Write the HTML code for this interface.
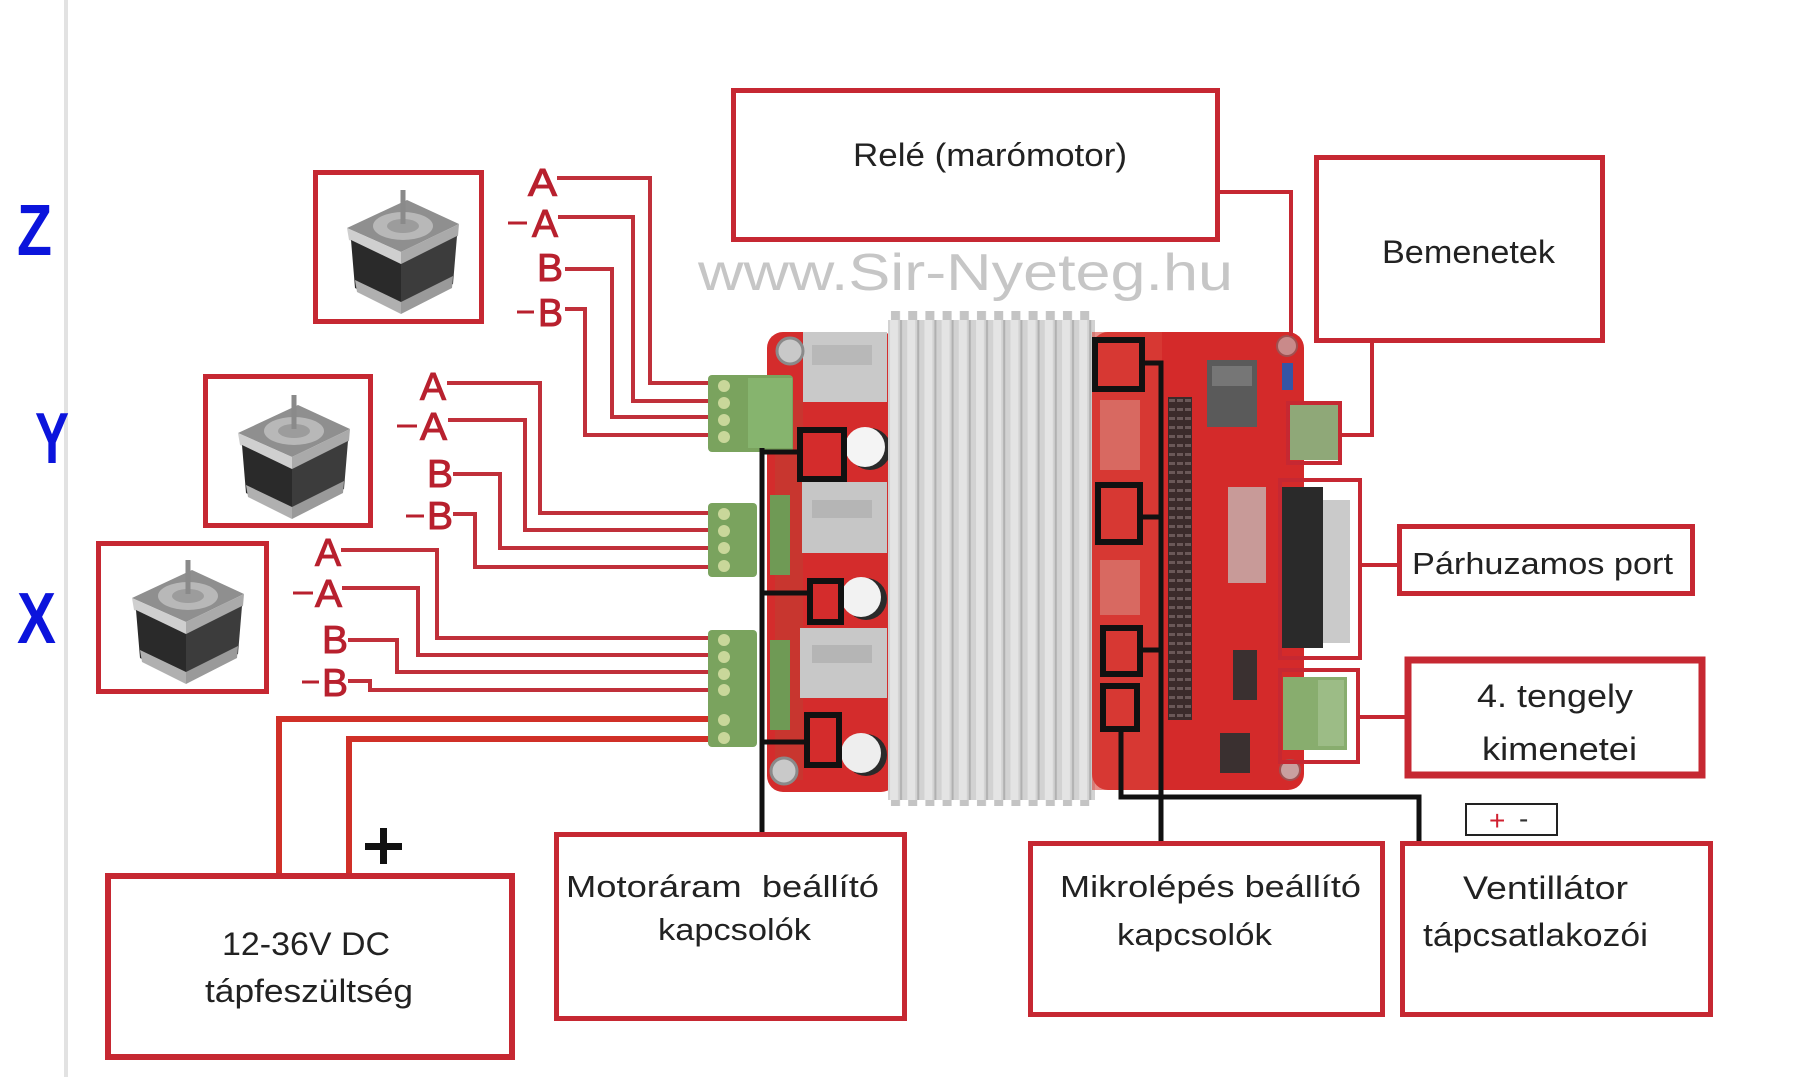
<!DOCTYPE html>
<html><head><meta charset="utf-8">
<style>
html,body{margin:0;padding:0;background:#fff;width:1816px;height:1080px;overflow:hidden}
svg{display:block}
text{font-family:"Liberation Sans",sans-serif}
</style></head>
<body>
<svg width="1816" height="1080" viewBox="0 0 1816 1080" xmlns="http://www.w3.org/2000/svg">
<defs>
  <pattern id="fins" x="888" y="0" width="17.2" height="20" patternUnits="userSpaceOnUse">
    <rect x="0" y="0" width="17.2" height="20" fill="#d2d2d2"/>
    <rect x="2" y="0" width="8" height="20" fill="#e4e4e4"/>
    <rect x="12" y="0" width="2" height="20" fill="#b0b0b0"/>
  </pattern>
  <pattern id="teeth" x="888" y="0" width="17.2" height="20" patternUnits="userSpaceOnUse">
    <rect x="3" y="0" width="9" height="20" fill="#c4c4c4"/>
  </pattern>
  <pattern id="pins" x="0" y="0" width="8" height="9" patternUnits="userSpaceOnUse">
    <rect x="0" y="0" width="8" height="9" fill="#3b2b2b"/>
    <rect x="1" y="3" width="6" height="3" fill="#6a5858"/>
  </pattern>
  <g id="motor">
    <polygon points="2,40 62,12 114,36 56,64" fill="#8f8f8f"/>
    <ellipse cx="58" cy="38" rx="30" ry="14" fill="#b8b8b8"/>
    <ellipse cx="58" cy="38" rx="16" ry="7" fill="#9c9c9c"/>
    <line x1="58" y1="36" x2="58" y2="2" stroke="#8a8a8a" stroke-width="5"/>
    <polygon points="2,40 56,64 56,76 4,52" fill="#cfcfcf"/>
    <polygon points="56,64 114,36 113,48 56,76" fill="#aaaaaa"/>
    <polygon points="6,52 56,76 56,124 10,100" fill="#2a2a2a"/>
    <polygon points="56,76 112,48 108,96 56,124" fill="#3c3c3c"/>
    <polygon points="10,92 56,114 56,126 12,104" fill="#b0b0b0"/>
    <polygon points="56,114 108,88 107,100 56,126" fill="#9a9a9a"/>
  </g>
</defs>

<rect width="1816" height="1080" fill="#fff"/>
<!-- left gray rule -->
<rect x="64" y="0" width="4" height="1077" fill="#e2e2e2"/>

<!-- Blue axis letters -->
<text x="17" y="255" font-size="72" font-weight="bold" fill="#0b14dc" textLength="35" lengthAdjust="spacingAndGlyphs">Z</text>
<text x="35" y="463" font-size="72" font-weight="bold" fill="#0b14dc" textLength="34" lengthAdjust="spacingAndGlyphs">Y</text>
<text x="17" y="643" font-size="72" font-weight="bold" fill="#0b14dc" textLength="39" lengthAdjust="spacingAndGlyphs">X</text>

<!-- watermark -->
<text x="698" y="290" font-size="52" fill="#c6c6c6" textLength="535" lengthAdjust="spacingAndGlyphs">www.Sir-Nyeteg.hu</text>

<!-- Motor boxes -->
<rect x="315.5" y="172.5" width="166" height="149" fill="#fff" stroke="#c62832" stroke-width="5"/>
<rect x="205.5" y="376.5" width="165" height="149" fill="#fff" stroke="#c62832" stroke-width="5"/>
<rect x="98.5" y="543.5" width="168" height="148" fill="#fff" stroke="#c62832" stroke-width="5"/>
<use href="#motor" x="345" y="188"/>
<use href="#motor" x="236" y="393"/>
<use href="#motor" x="130" y="558"/>

<!-- motor wire labels -->
<g fill="#b8202e" stroke="#b8202e" stroke-width="1" font-size="39">
  <text x="528" y="196" textLength="29" lengthAdjust="spacingAndGlyphs">A</text>
  <text x="532" y="237" textLength="26" lengthAdjust="spacingAndGlyphs">A</text>
  <text x="537" y="281" textLength="26" lengthAdjust="spacingAndGlyphs">B</text>
  <text x="538" y="326" textLength="25" lengthAdjust="spacingAndGlyphs">B</text>
  <text x="420" y="400" textLength="26" lengthAdjust="spacingAndGlyphs">A</text>
  <text x="420" y="440" textLength="27" lengthAdjust="spacingAndGlyphs">A</text>
  <text x="427" y="487" textLength="26" lengthAdjust="spacingAndGlyphs">B</text>
  <text x="427" y="529" textLength="26" lengthAdjust="spacingAndGlyphs">B</text>
  <text x="315" y="566" textLength="26" lengthAdjust="spacingAndGlyphs">A</text>
  <text x="315" y="607" textLength="27" lengthAdjust="spacingAndGlyphs">A</text>
  <text x="322" y="653" textLength="26" lengthAdjust="spacingAndGlyphs">B</text>
  <text x="322" y="696" textLength="26" lengthAdjust="spacingAndGlyphs">B</text>
</g>
<g stroke="#b8202e" stroke-width="3">
  <line x1="508" y1="223" x2="527" y2="223"/>
  <line x1="517" y1="312" x2="534" y2="312"/>
  <line x1="397" y1="426" x2="417" y2="426"/>
  <line x1="406" y1="516" x2="424" y2="516"/>
  <line x1="293" y1="593" x2="313" y2="593"/>
  <line x1="302" y1="682" x2="319" y2="682"/>
</g>

<!-- motor wires -->
<g fill="none" stroke="#c0303a" stroke-width="4">
  <polyline points="557,178 650,178 650,383 712,383"/>
  <polyline points="558,217 633,217 633,401 712,401"/>
  <polyline points="565,269 612,269 612,417 712,417"/>
  <polyline points="565,309 585,309 585,435 712,435"/>
  <polyline points="447,383 540,383 540,513 712,513"/>
  <polyline points="448,420 525,420 525,530 712,530"/>
  <polyline points="453,474 500,474 500,548 712,548"/>
  <polyline points="453,514 475,514 475,567 712,567"/>
  <polyline points="341,550 437,550 437,638 712,638"/>
  <polyline points="342,588 418,588 418,655 712,655"/>
  <polyline points="348,640 397,640 397,672 712,672"/>
  <polyline points="348,681 370,681 370,690 712,690"/>
</g>
<g fill="none" stroke="#d03028" stroke-width="6">
  <polyline points="279,873 279,719 712,719"/>
  <polyline points="349,873 349,739 712,739"/>
</g>
<!-- plus sign -->
<rect x="365" y="843" width="37" height="7" fill="#111"/>
<rect x="380" y="828" width="7" height="36" fill="#111"/>

<!-- ===== BOARD ===== -->
<!-- left board part -->
<rect x="767" y="332" width="130" height="460" rx="16" fill="#d42c2c"/>
<rect x="775" y="400" width="28" height="380" fill="#c33a30" opacity="0.7"/>
<rect x="803" y="332" width="84" height="70" fill="#c9c9c9"/>
<rect x="812" y="345" width="60" height="20" fill="#b8b8b8"/>
<rect x="802" y="482" width="85" height="71" fill="#c6c6c6"/>
<rect x="812" y="500" width="60" height="18" fill="#b5b5b5"/>
<rect x="800" y="628" width="87" height="70" fill="#c8c8c8"/>
<rect x="812" y="645" width="60" height="18" fill="#b5b5b5"/>
<rect x="770" y="495" width="20" height="80" fill="#6f9a55"/>
<rect x="770" y="640" width="20" height="90" fill="#6f9a55"/>
<circle cx="870" cy="449" r="21" fill="#2a2a2a"/>
<circle cx="865" cy="447" r="20" fill="#f4f4f4"/>
<circle cx="866" cy="599" r="21" fill="#2a2a2a"/>
<circle cx="861" cy="597" r="20" fill="#f2f2f2"/>
<circle cx="866" cy="755" r="21" fill="#2a2a2a"/>
<circle cx="861" cy="753" r="20" fill="#eeeeee"/>
<circle cx="790" cy="351" r="13" fill="#c9c9c9" stroke="#8a8a8a" stroke-width="3"/>
<circle cx="784" cy="771" r="13" fill="#c9c9c9" stroke="#8a8a8a" stroke-width="3"/>

<!-- heatsink -->
<rect x="888" y="311" width="207" height="12" fill="url(#teeth)"/>
<rect x="888" y="796" width="207" height="10" fill="url(#teeth)"/>
<rect x="888" y="320" width="207" height="480" fill="url(#fins)"/>

<!-- right board part -->
<rect x="1092" y="332" width="212" height="458" rx="16" fill="#d42a2a"/>
<rect x="1092" y="332" width="70" height="458" fill="#d8423a" opacity="0.6"/>
<rect x="1100" y="400" width="40" height="70" fill="#d88a80" opacity="0.6"/>
<rect x="1100" y="560" width="40" height="55" fill="#d88a80" opacity="0.6"/>
<rect x="1168" y="397" width="24" height="323" fill="url(#pins)"/>
<rect x="1207" y="360" width="50" height="67" fill="#5a5a5a"/>
<rect x="1212" y="366" width="40" height="20" fill="#767676"/>
<rect x="1228" y="487" width="38" height="96" fill="#c89a98"/>
<rect x="1233" y="650" width="24" height="50" fill="#3a3030"/>
<rect x="1220" y="733" width="30" height="40" fill="#3a3030"/>
<rect x="1282" y="363" width="11" height="27" fill="#3555a5"/>
<circle cx="1287" cy="346" r="10" fill="#c98a8a" stroke="#a05050" stroke-width="2"/>
<circle cx="1290" cy="770" r="10" fill="#c9a0a0" stroke="#a05050" stroke-width="2"/>
<!-- DB25 -->
<rect x="1282" y="487" width="41" height="161" fill="#2a2a2a"/>
<rect x="1323" y="500" width="27" height="143" fill="#cacaca"/>
<!-- 4th axis connector -->
<rect x="1283" y="677" width="64" height="73" fill="#88ad6e"/>
<rect x="1318" y="680" width="26" height="66" fill="#9cbc86"/>
<!-- inputs connector -->
<rect x="1290" y="405" width="48" height="55" fill="#8fa878"/>

<!-- terminal blocks -->
<rect x="708" y="375" width="85" height="77" rx="4" fill="#7aa35e"/>
<rect x="748" y="378" width="44" height="70" fill="#86b46e"/>
<rect x="708" y="503" width="49" height="74" rx="4" fill="#7aa35e"/>
<rect x="708" y="630" width="49" height="117" rx="4" fill="#7aa35e"/>
<g fill="#c9d79a">
  <circle cx="724" cy="386" r="6"/><circle cx="724" cy="403" r="6"/><circle cx="724" cy="420" r="6"/><circle cx="724" cy="437" r="6"/>
  <circle cx="724" cy="514" r="6"/><circle cx="724" cy="531" r="6"/><circle cx="724" cy="548" r="6"/><circle cx="724" cy="566" r="6"/>
  <circle cx="724" cy="640" r="6"/><circle cx="724" cy="657" r="6"/><circle cx="724" cy="674" r="6"/><circle cx="724" cy="690" r="6"/><circle cx="724" cy="720" r="6"/><circle cx="724" cy="738" r="6"/>
</g>

<!-- red connectors top-right -->
<g fill="none" stroke="#c62832" stroke-width="4">
  <polyline points="1220,192 1291,192 1291,336"/>
  <polyline points="1372,343 1372,435 1340,435"/>
  <rect x="1288" y="403" width="52" height="60"/>
  <rect x="1280" y="480" width="80" height="178"/>
  <line x1="1360" y1="565" x2="1398" y2="565"/>
  <rect x="1280" y="670" width="78" height="92"/>
  <line x1="1358" y1="717" x2="1406" y2="717"/>
</g>

<!-- black switch markers -->
<g fill="none" stroke="#111" stroke-width="6">
  <rect x="800" y="430" width="44" height="49"/>
  <rect x="810" y="581" width="31" height="41"/>
  <rect x="807" y="715" width="32" height="50"/>
  <rect x="1095" y="340" width="47" height="49"/>
  <rect x="1098" y="485" width="42" height="57"/>
  <rect x="1103" y="628" width="37" height="46"/>
  <rect x="1103" y="686" width="34" height="43"/>
</g>
<g fill="none" stroke="#111" stroke-width="5">
  <polyline points="762,832 762,448"/>
  <line x1="762" y1="452" x2="800" y2="452"/>
  <line x1="762" y1="593" x2="810" y2="593"/>
  <line x1="762" y1="742" x2="807" y2="742"/>
  <polyline points="1161,841 1161,363 1142,363"/>
  <line x1="1140" y1="517" x2="1161" y2="517"/>
  <line x1="1140" y1="650" x2="1161" y2="650"/>
  <polyline points="1121,732 1121,797 1419,797 1419,841"/>
</g>

<!-- ===== LABEL BOXES ===== -->
<g fill="none" stroke="#c62832" stroke-width="5">
  <rect x="733.5" y="90.5" width="484" height="149"/>
  <rect x="1316.5" y="157.5" width="286" height="183"/>
  <rect x="1399.5" y="526.5" width="293" height="67"/>
  <rect x="1408" y="660" width="294" height="115" stroke-width="7"/>
  <rect x="1402.5" y="843.5" width="308" height="171"/>
  <rect x="1030.5" y="843.5" width="352" height="171"/>
  <rect x="556.5" y="834.5" width="348" height="184"/>
  <rect x="108" y="876" width="404" height="181" stroke-width="6"/>
</g>
<rect x="1466" y="804" width="91" height="31" fill="#fff" stroke="#222" stroke-width="2"/>
<text x="1489" y="830" font-size="28" fill="#d02030">+</text>
<text x="1519" y="828" font-size="28" fill="#333">-</text>

<g fill="#222" font-size="32">
  <text x="853" y="166" textLength="274" lengthAdjust="spacingAndGlyphs">Relé (marómotor)</text>
  <text x="1382" y="263" textLength="173" lengthAdjust="spacingAndGlyphs">Bemenetek</text>
  <text x="1412" y="574" font-size="31" textLength="261" lengthAdjust="spacingAndGlyphs">Párhuzamos port</text>
  <text x="1477" y="707" textLength="156" lengthAdjust="spacingAndGlyphs">4. tengely</text>
  <text x="1482" y="760" textLength="155" lengthAdjust="spacingAndGlyphs">kimenetei</text>
  <text x="1463" y="899" textLength="165" lengthAdjust="spacingAndGlyphs">Ventillátor</text>
  <text x="1423" y="946" textLength="225" lengthAdjust="spacingAndGlyphs">tápcsatlakozói</text>
  <text x="1060" y="897" font-size="31" textLength="301" lengthAdjust="spacingAndGlyphs">Mikrolépés beállító</text>
  <text x="1117" y="945" font-size="31" textLength="155" lengthAdjust="spacingAndGlyphs">kapcsolók</text>
  <text x="566" y="897" font-size="31" textLength="313" lengthAdjust="spacingAndGlyphs">Motoráram&#160; beállító</text>
  <text x="658" y="940" font-size="31" textLength="153" lengthAdjust="spacingAndGlyphs">kapcsolók</text>
  <text x="222" y="955" textLength="168" lengthAdjust="spacingAndGlyphs">12-36V DC</text>
  <text x="205" y="1002" textLength="208" lengthAdjust="spacingAndGlyphs">tápfeszültség</text>
</g>
</svg>
</body></html>
